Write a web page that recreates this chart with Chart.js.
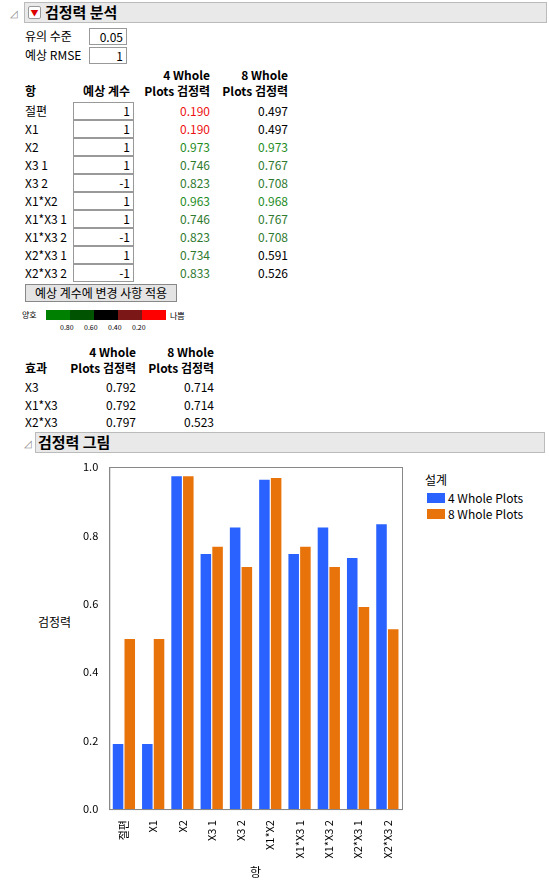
<!DOCTYPE html>
<html><head><meta charset="utf-8">
<script src="https://cdn.jsdelivr.net/npm/chart.js@4"></script>
<style>
body{margin:0;width:549px;height:884px;position:relative;background:#fff;font-family:"Noto Sans CJK KR","Noto Sans",sans-serif;font-size:12px;color:#000;overflow:hidden}
.a{position:absolute;white-space:nowrap;line-height:14px}
.r{text-align:right}
.box{position:absolute;border:1px solid #999;background:#fff;text-align:right;padding-right:3px;box-sizing:border-box;line-height:15px}
.hdr{position:absolute;background:#e9e9e9;border:1px solid #bbb;box-sizing:border-box;font-weight:bold;font-size:15px;line-height:18px}
.b{font-weight:bold}
</style></head><body>
<div id="root"></div>
<div style="position:absolute;left:80px;top:455px;width:340px;height:429px"><canvas id="c"></canvas></div>
<script>
const terms=["절편","X1","X2","X3 1","X3 2","X1*X2","X1*X3 1","X1*X3 2","X2*X3 1","X2*X3 2"];
const coefs=[1,1,1,1,-1,1,1,-1,1,-1];
const power4=[0.190,0.190,0.973,0.746,0.823,0.963,0.746,0.823,0.734,0.833];
const power8=[0.497,0.497,0.973,0.767,0.708,0.968,0.767,0.708,0.591,0.526];
const effects=["X3","X1*X3","X2*X3"];
const eff4=[0.792,0.792,0.797];
const eff8=[0.714,0.714,0.523];
const seriesNames=["4 Whole Plots","8 Whole Plots"];
const yTicks=[0,0.2,0.4,0.6,0.8,1.0];

function col(v){if(v<0.3)return"#ee1111";if(v>=0.6&&v>=0.7)return v>0.9?"#1e8c1e":"#2f7a2f";if(v>=0.6)return"#222";return"#000";}
let h='';
h+='<div class="a" style="left:10px;top:6px;color:#888;font-size:10px">◿</div>';
h+='<div class="hdr" style="left:24px;top:2px;width:523px;height:21px;padding-left:20px">검정력 분석</div>';
h+='<div class="a" style="left:28px;top:6px;width:11px;height:11px;background:#fff;border:1px solid #999;border-radius:2px;color:#d00;font-size:8px;text-align:center;line-height:11px">▼</div>';
h+='<div class="a" style="left:25px;top:29px">유의 수준</div><div class="box" style="left:89px;top:28px;width:38px;height:17px">0.05</div>';
h+='<div class="a" style="left:25px;top:48px">예상 RMSE</div><div class="box" style="left:89px;top:47px;width:38px;height:17px">1</div>';
h+='<div class="a b r" style="left:150px;top:68px;width:60px">4 Whole</div><div class="a b r" style="left:228px;top:68px;width:60px">8 Whole</div>';
h+='<div class="a b" style="left:25px;top:84px">항</div><div class="a b r" style="left:60px;top:84px;width:70px">예상 계수</div>';
h+='<div class="a b r" style="left:140px;top:84px;width:70px">Plots 검정력</div><div class="a b r" style="left:218px;top:84px;width:70px">Plots 검정력</div>';
terms.forEach((t,i)=>{const y=102+i*18;
h+=`<div class="a" style="left:25px;top:${y+2}px">${t}</div><div class="box" style="left:73px;top:${y}px;width:61px;height:18px">${coefs[i]}</div>`;
h+=`<div class="a r" style="left:150px;top:${y+2}px;width:60px;color:${col(power4[i])}">${power4[i].toFixed(3)}</div>`;
h+=`<div class="a r" style="left:228px;top:${y+2}px;width:60px;color:${col(power8[i])}">${power8[i].toFixed(3)}</div>`;});
h+='<div class="a" style="left:25px;top:284px;width:152px;height:18px;border:1px solid #888;background:#e4e4e4;box-sizing:border-box;text-align:center;line-height:16px">예상 계수에 변경 사항 적용</div>';
h+='<div class="a" style="left:22px;top:310px;font-size:8px;line-height:10px">양호</div><div class="a" style="left:170px;top:311px;font-size:8px;line-height:10px">나쁨</div>';
["#008000","#005300","#000000","#7b1717","#ff0000"].forEach((c,i)=>{h+=`<div class="a" style="left:${46+i*24}px;top:310px;width:24px;height:10px;background:${c}"></div>`;});
["0.80","0.60","0.40","0.20"].forEach((t,i)=>{h+=`<div class="a" style="left:${60+i*24}px;top:323px;font-size:7px;line-height:9px">${t}</div>`;});
h+='<div class="a b r" style="left:76px;top:345px;width:60px">4 Whole</div><div class="a b r" style="left:154px;top:345px;width:60px">8 Whole</div>';
h+='<div class="a b" style="left:25px;top:361px">효과</div><div class="a b r" style="left:66px;top:361px;width:70px">Plots 검정력</div><div class="a b r" style="left:144px;top:361px;width:70px">Plots 검정력</div>';
effects.forEach((e,i)=>{const y=380+i*17.5;
h+=`<div class="a" style="left:25px;top:${y}px">${e}</div><div class="a r" style="left:76px;top:${y}px;width:60px">${eff4[i].toFixed(3)}</div><div class="a r" style="left:154px;top:${y}px;width:60px">${eff8[i].toFixed(3)}</div>`;});
h+='<div class="a" style="left:24px;top:436px;color:#888;font-size:10px">◿</div>';
h+='<div class="hdr" style="left:35px;top:432px;width:510px;height:21px;padding-left:2px">검정력 그림</div>';
h+='<div class="a" style="left:38px;top:615px">검정력</div>';
h+='<div class="a" style="left:425px;top:473px">설계</div>';
h+='<div class="a" style="left:427px;top:493px;width:18px;height:10px;background:#2962ff"></div><div class="a" style="left:448px;top:491px">4 Whole Plots</div>';
h+='<div class="a" style="left:427px;top:509px;width:18px;height:10px;background:#e8730a"></div><div class="a" style="left:448px;top:507px">8 Whole Plots</div>';
document.getElementById('root').innerHTML=h;

const border={id:'bd',afterDraw(c){const a=c.chartArea,x=c.ctx;x.save();x.strokeStyle='#888';x.lineWidth=1;x.strokeRect(a.left+0.5,a.top+0.5,a.right-a.left,a.bottom-a.top);x.restore();}};
new Chart(document.getElementById('c'),{type:'bar',
data:{labels:terms,datasets:[{label:seriesNames[0],data:power4,backgroundColor:'#2962ff'},{label:seriesNames[1],data:power8,backgroundColor:'#e8730a'}]},
options:{responsive:true,maintainAspectRatio:false,animation:false,
layout:{padding:{top:12,right:18}},
plugins:{legend:{display:false},tooltip:{enabled:false}},
scales:{x:{grid:{display:false,drawTicks:true},border:{color:'#888'},categoryPercentage:0.7,barPercentage:1,
ticks:{color:'#000',maxRotation:90,minRotation:90,font:{family:'Noto Sans CJK KR',size:11}},
title:{display:true,text:'항',color:'#000',font:{family:'Noto Sans CJK KR',size:12}}},
y:{min:0,max:1,afterBuildTicks:ax=>{ax.ticks=yTicks.map(v=>({value:v}));},grid:{display:false},border:{color:'#888'},
ticks:{color:'#000',callback:v=>v.toFixed(1),font:{family:'Noto Sans CJK KR',size:11}}}}},
plugins:[border]});
</script></body></html>
